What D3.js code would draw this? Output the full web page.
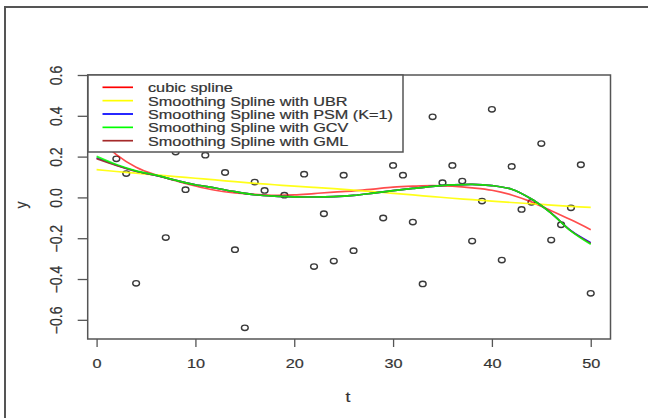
<!DOCTYPE html>
<html><head><meta charset="utf-8">
<script src="https://cdn.jsdelivr.net/npm/d3@7"></script>
<style>html,body{margin:0;padding:0;background:#fff;}svg{display:block;font-family:"Liberation Sans",Arial,sans-serif;}</style>
</head><body>
<svg id="c" width="648" height="418"></svg>
<script>
// observed data points
const tVals = [2,3,4,7,8,9,11,13,14,15,16,17,19,21,22,23,24,25,26,29,30,31,32,33,34,35,36,37,38,39,40,41,42,43,44,45,46,47,48,49,50];
const yVals = [0.189,0.117,-0.421,-0.197,0.222,0.038,0.207,0.122,-0.256,-0.639,0.075,0.034,0.011,0.114,-0.339,-0.080,-0.312,0.109,-0.261,-0.101,0.157,0.109,-0.121,-0.424,0.395,0.072,0.157,0.080,-0.214,-0.018,0.432,-0.307,0.152,-0.059,-0.024,0.264,-0.209,-0.134,-0.051,0.160,-0.470];

// fitted curves, sampled at curveT
const curveT = [0,2,4,6,8,10,12,14,16,18,20,22,24,26,28,30,32,34,36,38,40,42,44,46,48,50];
const cubicSpline = [0.300,0.210,0.148,0.110,0.082,0.056,0.035,0.022,0.015,0.010,0.012,0.019,0.026,0.032,0.041,0.050,0.055,0.058,0.055,0.047,0.035,0.012,-0.022,-0.065,-0.110,-0.158];
const ubr = [0.136,0.127,0.119,0.110,0.102,0.094,0.086,0.077,0.069,0.062,0.055,0.049,0.043,0.036,0.028,0.020,0.012,0.004,-0.004,-0.011,-0.018,-0.025,-0.031,-0.038,-0.044,-0.049];
const psm = [0.193,0.158,0.128,0.108,0.084,0.062,0.046,0.028,0.013,0.006,0.003,0.002,0.004,0.010,0.021,0.033,0.044,0.054,0.061,0.064,0.058,0.040,-0.008,-0.077,-0.163,-0.222];
const gml = [0.190,0.157,0.128,0.108,0.084,0.062,0.046,0.028,0.013,0.006,0.003,0.002,0.004,0.010,0.021,0.033,0.044,0.054,0.061,0.064,0.058,0.040,-0.008,-0.077,-0.164,-0.226];
const gcv = [0.201,0.161,0.130,0.109,0.084,0.062,0.046,0.028,0.013,0.006,0.003,0.002,0.004,0.010,0.021,0.033,0.044,0.054,0.061,0.064,0.058,0.040,-0.008,-0.078,-0.165,-0.230];

const legendLabels = ["cubic spline","Smoothing Spline with UBR","Smoothing Spline with PSM (K=1)","Smoothing Spline with GCV","Smoothing Spline with GML"];
const legendColors = ["#ff0000","#ffff00","#0000ff","#00ff00","#a52a2a"];
const xTicks = [0,10,20,30,40,50];
const yTicks = [-0.6,-0.4,-0.2,0.0,0.2,0.4,0.6];

const svg = d3.select("#c");
const SX = 1.25;
const FONT = "Liberation Sans, Arial, sans-serif";
const x = d3.scaleLinear().domain([-0.9,52]).range([87.7,610.5]);
const y = d3.scaleLinear().domain([-0.694,0.6]).range([339,75]);

// outer frame
svg.append("rect").attr("x",5).attr("y",7).attr("width",700).attr("height",500)
  .attr("fill","none").attr("stroke","#555").attr("stroke-width",2);

svg.append("clipPath").attr("id","pc").append("rect")
  .attr("x",x.range()[0]).attr("y",y.range()[1]).attr("width",x.range()[1]-x.range()[0]).attr("height",y.range()[0]-y.range()[1]);

// points
svg.append("g").selectAll("ellipse").data(tVals).join("ellipse")
  .attr("cx",(d)=>x(d)).attr("cy",(d,i)=>y(yVals[i]))
  .attr("rx",3.4).attr("ry",2.7).attr("fill","none").attr("stroke","#3a3a3a").attr("stroke-width",1.4);

// curves
const series = [
  {v:cubicSpline,c:legendColors[0],o:0.7},
  {v:ubr,c:legendColors[1],o:0.9},
  {v:psm,c:legendColors[2],o:0.9},
  {v:gml,c:legendColors[4],o:0.9},
  {v:gcv,c:legendColors[3],o:0.85}
];
const line = d3.line().x((d)=>x(d[0])).y((d)=>y(d[1])).curve(d3.curveCatmullRom);
const cg = svg.append("g").attr("clip-path","url(#pc)");
series.forEach(s=>{
  cg.append("path").attr("d",line(curveT.map((t,i)=>[t,s.v[i]])))
    .attr("fill","none").attr("stroke",s.c).attr("stroke-opacity",s.o).attr("stroke-width",1.7);
});

// plot box
svg.append("rect").attr("x",x.range()[0]).attr("y",y.range()[1])
  .attr("width",x.range()[1]-x.range()[0]).attr("height",y.range()[0]-y.range()[1])
  .attr("fill","none").attr("stroke","#555").attr("stroke-width",1.5);

function styleText(sel, size){
  sel.attr("font-size",size).attr("fill","#333").attr("stroke","#333").attr("stroke-width",0.2).attr("font-family",FONT);
}

// x axis
const xa = svg.append("g").attr("transform",`translate(0,${y.range()[0]})`)
  .call(d3.axisBottom(x).tickValues(xTicks).tickSize(8).tickFormat(d3.format("d")));
xa.select(".domain").remove();
xa.selectAll("line").attr("stroke","#555").attr("stroke-width",1.3);
styleText(xa.selectAll("text"),13);
xa.selectAll("text").attr("y",0).attr("dy",0)
  .attr("transform",`translate(0,29) scale(${SX},1)`);

// y axis
const ya = svg.append("g").attr("transform",`translate(${x.range()[0]},0)`)
  .call(d3.axisLeft(y).tickValues(yTicks).tickSize(10).tickFormat(d3.format(".1f")));
ya.select(".domain").remove();
ya.selectAll("line").attr("stroke","#555").attr("stroke-width",1.3);
styleText(ya.selectAll("text"),14);
ya.selectAll("text").attr("x",0).attr("dy",null).attr("dominant-baseline","central").attr("text-anchor","middle")
  .attr("transform",`translate(${56.6-x.range()[0]},0) scale(1.12,1) rotate(-90)`);

// axis titles
styleText(svg.append("text").attr("transform",`translate(348,402) scale(${SX},1)`).attr("text-anchor","middle").text("t"),14);
styleText(svg.append("text").attr("transform",`translate(21.5,205) scale(1.12,1) rotate(-90)`).attr("text-anchor","middle")
  .attr("dominant-baseline","central").text("y"),14);

// legend
const lg = svg.append("g");
lg.append("rect").attr("x",88).attr("y",75).attr("width",315).attr("height",77)
  .attr("fill","#fff").attr("stroke","#555").attr("stroke-width",1.5);
const rowY = d3.scaleLinear().domain([0,4]).range([87.3,140.7]);
legendLabels.forEach((lab,i)=>{
  lg.append("line").attr("x1",102.5).attr("x2",133).attr("y1",rowY(i)).attr("y2",rowY(i))
    .attr("stroke",legendColors[i]).attr("stroke-width",1.7);
  styleText(lg.append("text").attr("transform",`translate(148,${rowY(i)+0.5}) scale(${SX},1)`)
    .attr("dominant-baseline","central").text(lab),13);
});
</script>
</body></html>
